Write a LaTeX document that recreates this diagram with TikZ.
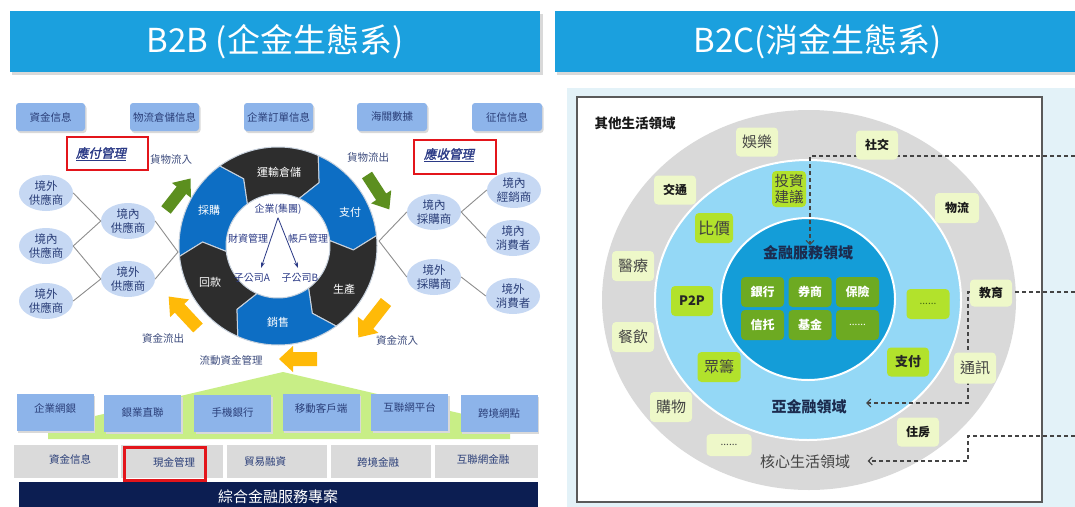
\documentclass[tikz,border=0pt]{standalone}
\usepackage{fontspec}
\setmainfont{Noto Sans CJK TC}
\newfontfamily\cjkbi[FakeSlant=0.22,FakeBold=1.5]{Noto Sans CJK TC}
\usetikzlibrary{shapes.geometric,arrows.meta,calc}
\newcommand\myfs[2]{\fontsize{#1}{#2}\selectfont}
\definecolor{hdrblue}{HTML}{1BA0DE}
\definecolor{boxblue}{HTML}{8DB4EA}
\definecolor{navytext}{HTML}{2A3E78}
\definecolor{ellfill}{HTML}{C6D8F3}
\definecolor{segblue}{HTML}{0D6EC4}
\definecolor{segdark}{HTML}{2D2D2D}
\definecolor{sepcol}{HTML}{C8D2DE}
\definecolor{hubnavy}{HTML}{2B3A86}
\definecolor{flownavy}{HTML}{3B4A7C}
\definecolor{linegray}{HTML}{8E8E8E}
\definecolor{greenarr}{HTML}{5C8F1F}
\definecolor{yellowarr}{HTML}{FFBA08}
\definecolor{trigreen}{HTML}{C8EE86}
\definecolor{rowgray}{HTML}{DADADA}
\definecolor{navybar}{HTML}{0C1E52}
\definecolor{redc}{HTML}{E3151B}
\definecolor{panelc}{HTML}{E3F2F8}
\definecolor{boxline}{HTML}{5A5A5A}
\definecolor{ringgray}{HTML}{D9D9D9}
\definecolor{lightring}{HTML}{94D8F6}
\definecolor{darkring}{HTML}{149DD8}
\definecolor{palegreen}{HTML}{EEF8C9}
\definecolor{brightgreen}{HTML}{B2E22C}
\definecolor{darkgreen}{HTML}{6DAA22}
\definecolor{txtgray}{HTML}{444444}
\definecolor{dashgray}{HTML}{444444}
\definecolor{finnavy}{HTML}{1C2B4E}
\newcommand\blockarrow[7]{%
  \begin{scope}[shift={#2}, rotate=#3]
    \fill[#1] (0,-#5) -- ({#4-#7},-#5) -- ({#4-#7},-#6) -- (#4,0) -- ({#4-#7},#6) -- ({#4-#7},#5) -- (0,#5) -- cycle;
  \end{scope}}
\begin{document}
\begin{tikzpicture}[x=1pt,y=-1pt,
  shadowed/.style={preaction={fill=black!15, transform canvas={xshift=1.5pt,yshift=-2pt}}},
  topbox/.style={rounded corners=3pt, fill=boxblue, text=navytext, minimum width=69pt, minimum height=28pt, inner sep=0pt, font=\myfs{10.5}{12}, shadowed},
  ell/.style={ellipse, fill=ellfill, minimum width=54pt, minimum height=36pt, inner sep=0pt, align=center, text=navytext, font=\myfs{11.5}{13.5}},
  segtxt/.style={text=white, font=\myfs{11}{13}},
  hubtxt/.style={text=hubnavy, font=\myfs{10}{12}},
  flowtxt/.style={text=flownavy, font=\myfs{10.5}{12}},
  conn/.style={draw=linegray, line width=0.9pt},
  hubarrow/.style={draw=hubnavy, line width=0.8pt, -{Stealth[length=6pt,width=4pt]}},
  botbox/.style={fill=boxblue, text=navytext, minimum width=77pt, minimum height=37pt, inner sep=0pt, shadowed},
  graybox/.style={fill=rowgray, minimum height=33pt, inner sep=0pt},
  rowtxt/.style={text=navytext, font=\myfs{10.5}{12}},
  redbox/.style={draw=redc, line width=2.3pt, inner sep=0pt},
  redtxt/.style={text=hubnavy, font=\cjkbi\myfs{12.5}{14}},
  pale/.style={fill=palegreen, rounded corners=4pt, inner sep=0pt, minimum width=42pt, minimum height=29pt},
  bright/.style={fill=brightgreen, rounded corners=4pt, inner sep=0pt, minimum width=42pt, minimum height=30pt},
  dkg/.style={fill=darkgreen, rounded corners=4pt, inner sep=0pt, minimum width=43pt, minimum height=30pt, text=white, font=\bfseries\myfs{12}{13}},
  regtxt/.style={text=txtgray, font=\myfs{15}{16}},
  boldtxt/.style={text=black!90, font=\bfseries\myfs{12}{13}},
  dline/.style={draw=dashgray, line width=1.1pt, dash pattern=on 4pt off 3pt},
  dtip/.style={-{Straight Barb[length=4pt,width=8pt]}}
]
\useasboundingbox (0,0) rectangle (1075,506);
\fill[white] (0,0) rectangle (1075,506);

% ---------- headers ----------
\fill[black!15] (12,14) rectangle (543,75);
\node[fill=hdrblue, minimum width=530pt, minimum height=61pt, inner sep=0pt, text=white, font=\myfs{33}{36}] (h1) at (275,41.5) {B2B (企金生態系)};
\fill[black!15] (557,14) rectangle (1080,75);
\node[fill=hdrblue, minimum width=525pt, minimum height=61pt, inner sep=0pt, text=white, font=\myfs{33}{36}] (h2) at (817.5,41.5) {B2C(消金生態系)};

% ---------- B2B top boxes ----------
\node[topbox] (t1) at (50.5,117) {資金信息};
\node[topbox] (t2) at (164.5,117) {物流倉儲信息};
\node[topbox] (t3) at (278.5,117) {企業訂單信息};
\node[topbox, minimum width=70pt] (t4) at (392,117) {海關數據};
\node[topbox, minimum width=70pt] (t5) at (507,117) {征信信息};

% red boxes
\node[redbox, minimum width=81pt, minimum height=33pt] (apbox) at (107.5,153.5) {};
\node[redtxt] (ap) at (101,154) {\underline{應付管理}};
\node[redbox, minimum width=82pt, minimum height=34pt] (arbox) at (455,157) {};
\node[redtxt] (ar) at (449,155) {\underline{應收管理}};

% flow texts
\node[flowtxt] (gin) at (171,159) {貨物流入};
\node[flowtxt] (gout) at (368,157) {貨物流出};
\node[flowtxt] (mout) at (163,338) {資金流出};
\node[flowtxt] (min) at (397,340) {資金流入};
\node[flowtxt] (wcm) at (231,360) {流動資金管理};

% ---------- ring ----------
\coordinate (C) at (278,246);
\node[circle, minimum size=198pt, inner sep=0pt] (ring) at (C) {};
\foreach \s/\col in {186/segblue,126/segdark,66/segblue,6/segdark,-54/segblue,-114/segdark}{
  \pgfmathsetmacro\ts{-1*(\s)}
  \pgfmathsetmacro\te{-1*(\s)+60}
  \pgfmathsetmacro\tip{-1*(\s)+69}
  \pgfmathsetmacro\tn{-1*(\s)+9}
  \filldraw[fill=\col, draw=sepcol, line width=1pt, line join=round]
    ($(C)+(\ts:99)$) arc[start angle=\ts, end angle=\te, radius=99]
    -- ($(C)+(\tip:75.5)$) -- ($(C)+(\te:52)$)
    arc[start angle=\te, end angle=\ts, radius=52]
    -- ($(C)+(\tn:75.5)$) -- cycle;
}
\node[segtxt] (s1) at (209,210) {採購};
\node[segtxt] (s2) at (279,172) {運輸倉儲};
\node[segtxt] (s3) at (350,212) {支付};
\node[segtxt] (s4) at (344,289) {生產};
\node[segtxt] (s5) at (278,322) {銷售};
\node[segtxt] (s6) at (210,282) {回款};

\node[hubtxt] (ent) at (278,209) {企業(集團)};
\node[hubtxt] (tm) at (248,239) {財資管理};
\node[hubtxt] (am) at (308,239) {帳戶管理};
\node[hubtxt] (subA) at (252,278) {子公司A};
\node[hubtxt] (subB) at (300,278) {子公司B};
\draw[hubarrow] (ent.south) -- ([xshift=9pt,yshift=2pt]subA.north);
\draw[hubarrow] (ent.south) -- ([xshift=-2pt,yshift=2pt]subB.north);

% ---------- ellipses ----------
\coordinate (ringL) at (178,252);
\coordinate (ringR) at (379,241);
\node[ell] (e1) at (46,193) {境外\\供應商};
\node[ell] (e2) at (46,246) {境內\\供應商};
\node[ell] (e3) at (46,301) {境外\\供應商};
\node[ell] (m1) at (128,221) {境內\\供應商};
\node[ell] (m2) at (128,279) {境外\\供應商};
\node[ell] (r1) at (434,212) {境內\\採購商};
\node[ell] (r2) at (434,277) {境外\\採購商};
\node[ell] (f1) at (514,190) {境內\\經銷商};
\node[ell] (f2) at (513,238) {境內\\消費者};
\node[ell] (f3) at (513,296) {境外\\消費者};
\draw[conn] (e1.east) -- (m1.west);
\draw[conn] (e2.east) -- (m1.west);
\draw[conn] (e2.east) -- (m2.west);
\draw[conn] (e3.east) -- (m2.west);
\draw[conn] (m1.east) -- (ringL);
\draw[conn] (m2.east) -- (ringL);
\draw[conn] (ringR) -- (r1.west);
\draw[conn] (ringR) -- (r2.west);
\draw[conn] (r1.east) -- (f1.west);
\draw[conn] (r1.east) -- (f2.west);
\draw[conn] (r2.east) -- (f3.west);

% ---------- block arrows ----------
\blockarrow{greenarr}{(166,210)}{52}{40}{6}{12}{15}
\blockarrow{greenarr}{(367,175)}{-57}{41}{6}{12}{15}
\blockarrow{yellowarr}{(198,328)}{133}{43}{6.5}{13}{16}
\blockarrow{yellowarr}{(386,302)}{-128}{45}{6.5}{13}{16}
\blockarrow{yellowarr}{(317,359)}{180}{38}{7}{13}{14}

% ---------- bottom section ----------
\fill[trigreen] (283,372) -- (510,425) -- (510,439) -- (48,439) -- (48,427) -- cycle;
\node[botbox] (b1) at (55,412) {};
\node[botbox] (b2) at (142.5,413) {};
\node[botbox] (b3) at (232.5,413) {};
\node[botbox] (b4) at (321,412) {};
\node[botbox] (b5) at (409.5,412) {};
\node[botbox] (b6) at (499,413) {};
\node[rowtxt] (bt1) at (55,408) {企業網銀};
\node[rowtxt] (bt2) at (142.5,413) {銀業直聯};
\node[rowtxt] (bt3) at (232.5,413) {手機銀行};
\node[rowtxt] (bt4) at (321,408) {移動客戶端};
\node[rowtxt] (bt5) at (409.5,408) {互聯網平台};
\node[rowtxt] (bt6) at (499,413) {跨境網點};

\node[graybox, minimum width=104pt] (g1) at (66,461) {};
\node[graybox, minimum width=102pt] (g2) at (172,461) {};
\node[graybox, minimum width=100pt] (g3) at (277,461) {};
\node[graybox, minimum width=100pt] (g4) at (381,461) {};
\node[graybox, minimum width=103pt] (g5) at (486.5,461) {};
\node[rowtxt] (gt1) at (70,459) {資金信息};
\node[rowtxt] (gt2) at (174,462) {現金管理};
\node[rowtxt] (gt3) at (265,462) {貿易融資};
\node[rowtxt] (gt4) at (378,462) {跨境金融};
\node[rowtxt] (gt5) at (483,459) {互聯網金融};
\node[redbox, minimum width=81pt, minimum height=33pt] (cmbox) at (165,464) {};

\node[fill=navybar, minimum width=519pt, minimum height=30pt, inner sep=0pt, text=white, font=\myfs{15}{17}] (bar) at (278,497) {綜合金融服務專案};

% ---------- B2C panel ----------
\fill[panelc] (567,88) rectangle (1080,510);
\filldraw[fill=white, draw=boxline, line width=1.2pt] (577,97) rectangle (1042,502);
\fill[ringgray] (809,300) ellipse [x radius=207, y radius=190];
\filldraw[fill=lightring, draw=white, line width=2pt] (808,300) ellipse [x radius=153, y radius=140];
\filldraw[fill=darkring, draw=white, line width=2pt] (808,299) ellipse [x radius=87, y radius=81];

\node[anchor=west, text=black!90, font=\bfseries\myfs{13.5}{15}] (other) at (591,123) {其他生活領域};
\node[text=finnavy, font=\bfseries\myfs{15}{16}] (fin) at (808,253) {金融服務領域};
\node[text=finnavy, font=\bfseries\myfs{15}{16}] (sub) at (809,407) {亞金融領域};
\node[regtxt] (core) at (805,462) {核心生活領域};

% dashed connectors
\coordinate (d1s) at (1075,156);
\coordinate (d1c) at (810,156);
\coordinate (d2s) at (1075,292);
\coordinate (d2c) at (968,292);
\coordinate (d2d) at (968,403);
\coordinate (d3s) at (1075,436);
\coordinate (d3c) at (968,436);
\coordinate (d3d) at (968,461);
\draw[dline, dtip] (d1s) -- (d1c) -- ([yshift=-3pt]fin.north -| d1c);
\draw[dline, dtip] (d2s) -- (d2c) -- (d2d) -- ([xshift=16pt]sub.east |- d2d);
\draw[dline, dtip] (d3s) -- (d3c) -- (d3d) -- ([xshift=14pt]core.east |- d3d);

% outer ring boxes
\node[pale, regtxt] (ent2) at (757,142) {娛樂};
\node[pale, boldtxt] (soc) at (877,145) {社交};
\node[pale, boldtxt] (tra) at (675,190) {交通};
\node[pale, boldtxt, minimum width=44pt, minimum height=30pt] (logi) at (957,208) {物流};
\node[pale, regtxt, minimum height=30pt] (med) at (633,266) {醫療};
\node[pale, boldtxt, minimum height=27pt] (edu) at (991,293) {教育};
\node[pale, regtxt, minimum height=30pt] (din) at (633,337) {餐飲};
\node[pale, regtxt, minimum height=31pt] (tel) at (975,368) {通訊};
\node[pale, regtxt, minimum height=30pt] (shop) at (671,407) {購物};
\node[pale, boldtxt] (house) at (918,432) {住房};
\node[pale, minimum width=45pt, minimum height=22pt, text=txtgray, font=\myfs{10}{11}] (dots2) at (729,445) {......};

% middle ring boxes
\node[bright, minimum width=34pt, minimum height=36pt, align=center, text=black!75, font=\myfs{14.5}{16}] (inv) at (789,189) {投資\\建議};
\node[bright, minimum width=38pt, text=black!75, font=\myfs{16}{17}] (cmp) at (714,228) {比價};
\node[bright, text=black!85, font=\bfseries\myfs{13}{14}] (p2p) at (692,301) {P2P};
\node[bright, minimum width=43pt, text=darkgreen!60!black, font=\myfs{10}{11}] (dots1) at (928,304) {......};
\node[bright, minimum width=43pt, text=black!75, font=\myfs{15}{16}] (crowd) at (719,367) {眾籌};
\node[bright, minimum height=29pt, text=black!85, font=\bfseries\myfs{13}{14}] (pay) at (908,362) {支付};

% inner boxes
\node[dkg] (bank) at (762.5,292) {銀行};
\node[dkg] (secu) at (810,292) {券商};
\node[dkg] (insu) at (857.5,292) {保險};
\node[dkg] (trus) at (762.5,325) {信托};
\node[dkg] (fund) at (810,325) {基金};
\node[dkg, font=\myfs{10}{11}] (dots3) at (857.5,325) {......};
\end{tikzpicture}
\end{document}
